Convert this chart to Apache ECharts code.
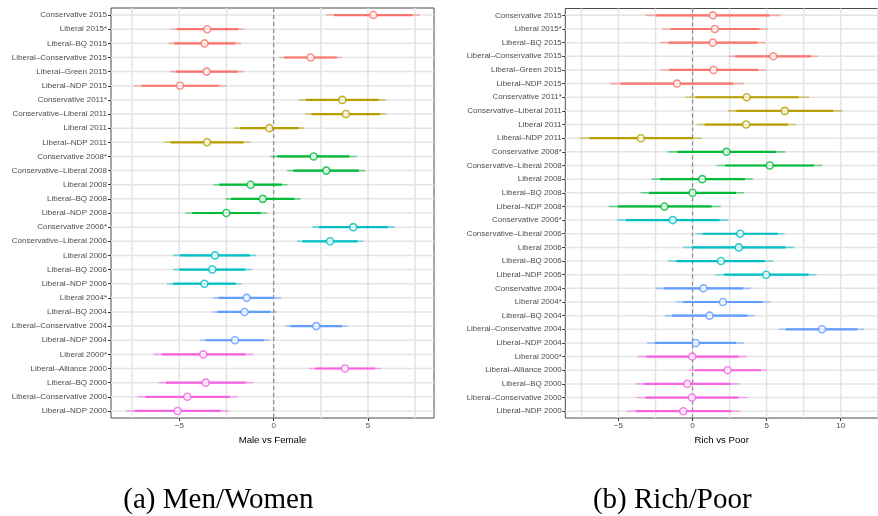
<!DOCTYPE html>
<html>
<head>
<meta charset="utf-8">
<script src="https://cdn.jsdelivr.net/npm/echarts@6/dist/echarts.min.js"></script>
<style>html,body{margin:0;padding:0;background:#fff}#c{width:878px;height:516px}</style>
</head>
<body>
<div id="c"></div>
<script>
const yearColors = {'2015':'#F8766D','2011':'#B79F00','2008':'#00BA38','2006':'#00BFC4','2004':'#619CFF','2000':'#F564E3'};

const leftCats = ['Conservative 2015','Liberal 2015*','Liberal\u2013BQ 2015','Liberal\u2013Conservative 2015','Liberal\u2013Green 2015','Liberal\u2013NDP 2015','Conservative 2011*','Conservative\u2013Liberal 2011','Liberal 2011','Liberal\u2013NDP 2011','Conservative 2008*','Conservative\u2013Liberal 2008','Liberal 2008','Liberal\u2013BQ 2008','Liberal\u2013NDP 2008','Conservative 2006*','Conservative\u2013Liberal 2006','Liberal 2006','Liberal\u2013BQ 2006','Liberal\u2013NDP 2006','Liberal 2004*','Liberal\u2013BQ 2004','Liberal\u2013Conservative 2004','Liberal\u2013NDP 2004','Liberal 2000*','Liberal\u2013Alliance 2000','Liberal\u2013BQ 2000','Liberal\u2013Conservative 2000','Liberal\u2013NDP 2000'];
const leftEst     = [5.28,-3.52,-3.66,1.96,-3.55,-4.96,3.64,3.83,-0.23,-3.53,2.12,2.79,-1.22,-0.58,-2.51,4.22,2.99,-3.11,-3.25,-3.67,-1.43,-1.54,2.26,-2.05,-3.73,3.78,-3.60,-4.58,-5.09];
const leftInnerLo = [3.20,-5.14,-5.28,0.57,-5.19,-7.01,1.71,2.01,-1.78,-5.46,0.19,1.04,-2.88,-2.26,-4.31,2.40,1.52,-4.96,-5.00,-5.32,-2.92,-2.97,0.90,-3.60,-5.92,2.19,-5.71,-6.80,-7.39];
const leftInnerHi = [7.37,-1.87,-2.03,3.34,-1.91,-2.90,5.57,5.64,1.33,-1.59,4.01,4.51,0.44,1.11,-0.69,6.04,4.45,-1.25,-1.50,-2.01,0.02,-0.16,3.62,-0.51,-1.50,5.37,-1.50,-2.33,-2.81];
const leftOuterLo = [2.77,-5.44,-5.58,0.30,-5.49,-7.42,1.34,1.66,-2.08,-5.83,-0.18,0.72,-3.20,-2.56,-4.68,2.05,1.24,-5.32,-5.32,-5.65,-3.20,-3.25,0.64,-3.90,-6.36,1.87,-6.10,-7.24,-7.83];
const leftOuterHi = [7.76,-1.55,-1.73,3.60,-1.59,-2.51,5.94,5.97,1.63,-1.25,4.40,4.86,0.74,1.43,-0.34,6.41,4.75,-0.92,-1.17,-1.70,0.39,0.18,3.92,-0.19,-1.10,5.69,-1.10,-1.91,-2.37];

const rightCats = ['Conservative 2015','Liberal 2015*','Liberal\u2013BQ 2015','Liberal\u2013Conservative 2015','Liberal\u2013Green 2015','Liberal\u2013NDP 2015','Conservative 2011*','Conservative\u2013Liberal 2011','Liberal 2011','Liberal\u2013NDP 2011','Conservative 2008*','Conservative\u2013Liberal 2008','Liberal 2008','Liberal\u2013BQ 2008','Liberal\u2013NDP 2008','Conservative 2006*','Conservative\u2013Liberal 2006','Liberal 2006','Liberal\u2013BQ 2006','Liberal\u2013NDP 2006','Conservative 2004','Liberal 2004*','Liberal\u2013BQ 2004','Liberal\u2013Conservative 2004','Liberal\u2013NDP 2004','Liberal 2000*','Liberal\u2013Alliance 2000','Liberal\u2013BQ 2000','Liberal\u2013Conservative 2000','Liberal\u2013NDP 2000'];
const rightEst     = [1.37,1.50,1.37,5.45,1.42,-1.05,3.66,6.23,3.62,-3.49,2.29,5.21,0.65,0.00,-1.90,-1.33,3.22,3.12,1.92,4.97,0.74,2.05,1.15,8.74,0.22,-0.02,2.37,-0.35,-0.04,-0.63];
const rightInnerLo = [-2.48,-1.48,-1.61,2.88,-1.57,-4.86,0.20,2.96,0.81,-6.95,-1.02,2.20,-2.20,-2.94,-5.05,-4.49,0.68,0.00,-1.09,2.11,-1.94,-0.63,-1.39,6.30,-2.53,-3.12,0.13,-3.29,-3.18,-3.83];
const rightInnerHi = [5.19,4.51,4.36,8.00,4.44,2.75,7.17,9.48,6.45,0.00,5.62,8.19,3.53,2.94,1.29,1.83,5.75,6.27,4.88,7.84,3.42,4.71,3.70,11.13,2.94,3.09,4.64,2.55,3.09,2.61];
const rightOuterLo = [-3.18,-2.07,-2.20,2.42,-2.16,-5.58,-0.50,2.37,0.28,-7.60,-1.68,1.63,-2.77,-3.51,-5.66,-5.10,0.20,-0.63,-1.63,1.55,-2.46,-1.15,-1.87,5.86,-3.07,-3.70,-0.28,-3.83,-3.77,-4.44];
const rightOuterHi = [5.93,5.10,4.92,8.45,4.99,3.46,7.86,10.11,6.99,0.63,6.25,8.76,4.07,3.49,1.90,2.42,6.21,6.86,5.45,8.37,3.94,5.23,4.18,11.59,3.46,3.66,5.03,3.14,3.70,3.20];

const leftGridX = [-7.5,-5,-2.5,0,2.5,5,7.5];
const rightGridX = [-7.5,-5,-2.5,0,2.5,5,7.5,10,12.5];
const leftTickLabels = [-5,0,5];
const rightTickLabels = [-5,0,5,10];
const leftRange = [-8.62, 8.5];
const rightRange = [-8.59, 12.52];
const xTitles = ['Male vs Female', 'Rich vs Poor'];
const captions = ['(a) Men/Women', '(b) Rich/Poor'];

const FONT = '"Liberation Sans", Arial, Helvetica, sans-serif';
const GRIDCOL = '#e4e4e4';
function colorOf(label){ return yearColors[label.match(/\d{4}/)[0]]; }

const chart = echarts.init(document.getElementById('c'), null, {renderer:'canvas'});

function buildPanel(gi, cats, est, ilo, ihi, olo, ohi, gridX, range) {
  const cols = cats.map(colorOf);
  const n = cats.length;
  function yExtent(api) {
    const y0 = api.coord([0, 0])[1];
    const y1 = api.coord([0, n - 1])[1];
    const band = (y1 - y0) / (n - 1);
    return [y0 - band / 2, y1 + band / 2];
  }
  return [
    { // horizontal gridlines, one per category
      type:'custom', xAxisIndex:gi, yAxisIndex:gi, z:3, silent:true,
      data: cats.map((c,i)=>[0,i]),
      renderItem:(params, api)=>{
        const i = api.value(1);
        const a = api.coord([range[0], i]);
        const b = api.coord([range[1], i]);
        return {type:'line', shape:{x1:a[0], y1:a[1], x2:b[0], y2:b[1]}, style:{stroke:GRIDCOL, lineWidth:1.5}};
      }
    },
    { // vertical gridlines
      type:'custom', xAxisIndex:gi, yAxisIndex:gi, z:3, silent:true,
      data: gridX.map(v=>[v,0]),
      renderItem:(params, api)=>{
        const x = api.coord([api.value(0), 0])[0];
        const e = yExtent(api);
        return {type:'line', shape:{x1:x, y1:e[0], x2:x, y2:e[1]}, style:{stroke:GRIDCOL, lineWidth:1.5}};
      }
    },
    { // dashed zero reference line
      type:'custom', xAxisIndex:gi, yAxisIndex:gi, z:4, silent:true,
      data: [[0,0]],
      renderItem:(params, api)=>{
        const x = api.coord([api.value(0), 0])[0];
        const e = yExtent(api);
        return {type:'line', shape:{x1:x, y1:e[0], x2:x, y2:e[1]}, style:{stroke:'#8c8c8c', lineWidth:1.2, lineDash:[4,3]}};
      }
    },
    { // confidence intervals
      type:'custom', xAxisIndex:gi, yAxisIndex:gi, z:5, silent:true,
      data: cats.map((c,i)=>[olo[i], i, ohi[i], ilo[i], ihi[i]]),
      renderItem:(params, api)=>{
        const i = api.value(1);
        const c = cols[params.dataIndex];
        const a = api.coord([api.value(0), i]);
        const b = api.coord([api.value(2), i]);
        const p = api.coord([api.value(3), i]);
        const q = api.coord([api.value(4), i]);
        return {type:'group', children:[
          {type:'line', shape:{x1:a[0], y1:a[1], x2:b[0], y2:b[1]}, style:{stroke:c, lineWidth:1.6, opacity:0.55}},
          {type:'line', shape:{x1:p[0], y1:p[1], x2:q[0], y2:q[1]}, style:{stroke:c, lineWidth:2.2}}
        ]};
      }
    },
    { // point estimates
      type:'scatter', xAxisIndex:gi, yAxisIndex:gi, z:6, silent:true,
      symbol:'circle', symbolSize:7,
      data: est.map((v,i)=>({value:[v,i], itemStyle:{color:'#ffffff', borderColor:cols[i], borderWidth:1.6}}))
    }
  ];
}

function xAxisFor(gi, range, title, ticks, split) {
  return {
    type:'value', gridIndex:gi, min:range[0], max:range[1], splitNumber:split,
    splitLine:{show:false},
    axisLine:{show:false, onZero:false},
    axisTick:{show:true, length:3, lineStyle:{color:'#333333', width:1}},
    axisLabel:{
      show:true, fontSize:8, color:'#4d4d4d', fontFamily:FONT, margin:4,
      showMinLabel:false, showMaxLabel:false,
      formatter:(v)=> ticks.indexOf(v) >= 0 ? String(v).replace('-', '\u2212') : ''
    },
    name:title, nameLocation:'middle', nameGap:14,
    nameTextStyle:{fontSize:9.6, color:'#000', fontFamily:FONT}
  };
}
function yAxisFor(gi, cats, margin) {
  return {
    type:'category', gridIndex:gi, data:cats, inverse:true, position:'left',
    axisLine:{show:false, onZero:false},
    axisTick:{show:true, alignWithLabel:true, length:3, lineStyle:{color:'#333333', width:1}},
    axisLabel:{fontSize:8, color:'#4d4d4d', fontFamily:FONT, margin:margin, interval:0},
    splitLine:{show:false}
  };
}

const option = {
  animation:false,
  backgroundColor:'#ffffff',
  grid:[
    {left:111, top:8, width:323, height:410, show:true, borderColor:'#4a4a4a', borderWidth:1, backgroundColor:'transparent'},
    {left:565.3, top:8.5, width:323, height:409.5, show:true, borderColor:'#4a4a4a', borderWidth:1, backgroundColor:'transparent'}
  ],
  xAxis:[ xAxisFor(0, leftRange, xTitles[0], leftTickLabels, 3), xAxisFor(1, rightRange, xTitles[1], rightTickLabels, 4) ],
  yAxis:[ yAxisFor(0, leftCats, 4), yAxisFor(1, rightCats, 3.5) ],
  series:[].concat(
    buildPanel(0, leftCats, leftEst, leftInnerLo, leftInnerHi, leftOuterLo, leftOuterHi, leftGridX, leftRange),
    buildPanel(1, rightCats, rightEst, rightInnerLo, rightInnerHi, rightOuterLo, rightOuterHi, rightGridX, rightRange)
  ),
  graphic:[
    {type:'text', x:218.4, y:500, style:{text:captions[0], font:'29px "Liberation Serif", "Times New Roman", serif', fill:'#000', align:'center', verticalAlign:'middle'}},
    {type:'text', x:672.3, y:500, style:{text:captions[1], font:'29px "Liberation Serif", "Times New Roman", serif', fill:'#000', align:'center', verticalAlign:'middle'}}
  ]
};
chart.setOption(option);
</script>
</body>
</html>
